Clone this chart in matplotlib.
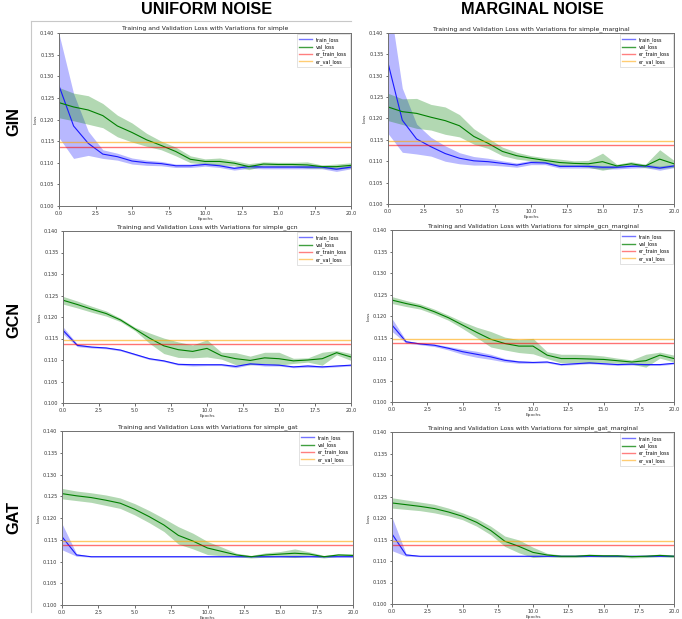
import matplotlib
matplotlib.use("Agg")
import matplotlib.pyplot as plt
from matplotlib.lines import Line2D
import numpy as np

epochs = list(range(21))
er_train_loss = 0.1137
er_val_loss = 0.1147

# ---- GIN / uniform (simple)
simple_train = [0.1278, 0.1185, 0.1145, 0.1120, 0.1114, 0.1104, 0.1100, 0.1098, 0.1093, 0.1093, 0.1096,
                0.1093, 0.1087, 0.1091, 0.1090, 0.1090, 0.1090, 0.1090, 0.1090, 0.1085, 0.1090]
simple_train_sd = [0.0120, 0.0075, 0.0028, 0.0010, 0.0008, 0.0007, 0.0006, 0.0005, 0.0004, 0.0004, 0.0004,
                   0.0004, 0.0004, 0.0004, 0.0004, 0.0004, 0.0004, 0.0004, 0.0004, 0.0005, 0.0004]
simple_val = [0.1239, 0.1229, 0.1222, 0.1209, 0.1185, 0.1170, 0.1153, 0.1140, 0.1126, 0.1108, 0.1103,
              0.1103, 0.1099, 0.1091, 0.1097, 0.1096, 0.1096, 0.1095, 0.1091, 0.1091, 0.1094]
simple_val_sd = [0.0035, 0.0032, 0.0033, 0.0028, 0.0025, 0.0022, 0.0015, 0.0010, 0.0010, 0.0008, 0.0006,
                 0.0008, 0.0006, 0.0007, 0.0005, 0.0005, 0.0005, 0.0007, 0.0004, 0.0006, 0.0006]

# ---- GIN / marginal (simple_marginal)
simple_m_train = [0.1330, 0.1196, 0.1152, 0.1134, 0.1118, 0.1107, 0.1101, 0.1099, 0.1095, 0.1091, 0.1097,
                  0.1096, 0.1088, 0.1088, 0.1088, 0.1086, 0.1086, 0.1088, 0.1089, 0.1084, 0.1089]
simple_m_train_sd = [0.0165, 0.0075, 0.0035, 0.0022, 0.0018, 0.0013, 0.0010, 0.0008, 0.0006, 0.0005, 0.0005,
                     0.0004, 0.0004, 0.0004, 0.0004, 0.0004, 0.0004, 0.0004, 0.0004, 0.0005, 0.0004]
simple_m_val = [0.1227, 0.1216, 0.1212, 0.1203, 0.1195, 0.1183, 0.1158, 0.1142, 0.1123, 0.1113, 0.1107,
                0.1102, 0.1097, 0.1095, 0.1094, 0.1099, 0.1089, 0.1094, 0.1089, 0.1105, 0.1094]
simple_m_val_sd = [0.0032, 0.0030, 0.0035, 0.0030, 0.0032, 0.0026, 0.0018, 0.0012, 0.0010, 0.0008, 0.0006,
                   0.0006, 0.0008, 0.0006, 0.0008, 0.0020, 0.0004, 0.0005, 0.0004, 0.0022, 0.0008]

# ---- GCN / uniform (simple_gcn)
gcn_train = [0.1169, 0.1134, 0.1130, 0.1128, 0.1123, 0.1113, 0.1103, 0.1098, 0.1090, 0.1089, 0.1089,
             0.1089, 0.1085, 0.1091, 0.1089, 0.1088, 0.1084, 0.1086, 0.1084, 0.1086, 0.1088]
gcn_train_sd = [0.0008, 0.0003, 0.0002, 0.0002, 0.0002, 0.0002, 0.0002, 0.0002, 0.0002, 0.0003, 0.0002,
                0.0002, 0.0003, 0.0002, 0.0003, 0.0002, 0.0002, 0.0003, 0.0002, 0.0002, 0.0002]
gcn_val = [0.1239, 0.1229, 0.1218, 0.1208, 0.1193, 0.1172, 0.1151, 0.1133, 0.1124, 0.1120, 0.1127,
           0.1110, 0.1103, 0.1099, 0.1105, 0.1103, 0.1098, 0.1100, 0.1103, 0.1117, 0.1107]
gcn_val_sd = [0.0009, 0.0008, 0.0007, 0.0006, 0.0004, 0.0004, 0.0012, 0.0018, 0.0018, 0.0015, 0.0020,
              0.0008, 0.0014, 0.0010, 0.0013, 0.0015, 0.0006, 0.0005, 0.0015, 0.0005, 0.0008]

# ---- GCN / marginal (simple_gcn_marginal)
gcn_m_train = [0.1179, 0.1140, 0.1135, 0.1132, 0.1125, 0.1117, 0.1111, 0.1105, 0.1097, 0.1093, 0.1092,
               0.1093, 0.1087, 0.1089, 0.1091, 0.1089, 0.1087, 0.1088, 0.1087, 0.1087, 0.1090]
gcn_m_train_sd = [0.0015, 0.0003, 0.0002, 0.0003, 0.0004, 0.0006, 0.0007, 0.0006, 0.0004, 0.0003, 0.0002,
                  0.0002, 0.0002, 0.0002, 0.0002, 0.0002, 0.0002, 0.0002, 0.0002, 0.0002, 0.0002]
gcn_m_val = [0.1237, 0.1229, 0.1222, 0.1210, 0.1196, 0.1179, 0.1162, 0.1146, 0.1136, 0.1130, 0.1130,
             0.1109, 0.1101, 0.1101, 0.1100, 0.1099, 0.1096, 0.1093, 0.1096, 0.1109, 0.1101]
gcn_m_val_sd = [0.0008, 0.0007, 0.0006, 0.0006, 0.0006, 0.0008, 0.0012, 0.0018, 0.0015, 0.0015, 0.0018,
                0.0008, 0.0010, 0.0010, 0.0010, 0.0008, 0.0006, 0.0005, 0.0015, 0.0007, 0.0008]

# ---- GAT / uniform (simple_gat)
gat_train = [0.1157, 0.1115, 0.1111, 0.1111, 0.1111, 0.1111, 0.1111, 0.1111, 0.1111, 0.1111, 0.1111,
             0.1111, 0.1111, 0.1111, 0.1111, 0.1111, 0.1111, 0.1111, 0.1111, 0.1111, 0.1111]
gat_train_sd = [0.0030, 0.0003, 0.0001, 0.0001, 0.0001, 0.0001, 0.0001, 0.0001, 0.0001, 0.0001, 0.0001,
                0.0001, 0.0001, 0.0001, 0.0001, 0.0001, 0.0001, 0.0001, 0.0001, 0.0001, 0.0001]
gat_val = [0.1256, 0.1251, 0.1247, 0.1241, 0.1234, 0.1220, 0.1203, 0.1184, 0.1160, 0.1147, 0.1131,
           0.1123, 0.1115, 0.1111, 0.1115, 0.1117, 0.1119, 0.1117, 0.1111, 0.1115, 0.1114]
gat_val_sd = [0.0012, 0.0011, 0.0011, 0.0012, 0.0012, 0.0013, 0.0014, 0.0015, 0.0020, 0.0018, 0.0015,
              0.0010, 0.0004, 0.0003, 0.0005, 0.0006, 0.0010, 0.0005, 0.0003, 0.0003, 0.0003]

# ---- GAT / marginal (simple_gat_marginal)
gat_m_train = [0.1163, 0.1114, 0.1111, 0.1111, 0.1111, 0.1111, 0.1111, 0.1111, 0.1111, 0.1111, 0.1111,
               0.1111, 0.1111, 0.1111, 0.1111, 0.1111, 0.1111, 0.1111, 0.1111, 0.1111, 0.1111]
gat_m_train_sd = [0.0039, 0.0003, 0.0001, 0.0001, 0.0001, 0.0001, 0.0001, 0.0001, 0.0001, 0.0001, 0.0001,
                  0.0001, 0.0001, 0.0001, 0.0001, 0.0001, 0.0001, 0.0001, 0.0001, 0.0001, 0.0001]
gat_m_val = [0.1235, 0.1231, 0.1227, 0.1222, 0.1214, 0.1204, 0.1190, 0.1171, 0.1146, 0.1134, 0.1120,
             0.1114, 0.1111, 0.1111, 0.1113, 0.1112, 0.1112, 0.1110, 0.1111, 0.1113, 0.1111]
gat_m_val_sd = [0.0012, 0.0011, 0.0010, 0.0010, 0.0009, 0.0008, 0.0009, 0.0010, 0.0012, 0.0015, 0.0012,
                0.0004, 0.0003, 0.0003, 0.0003, 0.0003, 0.0003, 0.0003, 0.0003, 0.0003, 0.0003]

model_names = ["simple", "simple_marginal", "simple_gcn", "simple_gcn_marginal", "simple_gat", "simple_gat_marginal"]
column_titles = ["UNIFORM NOISE", "MARGINAL NOISE"]
row_titles = ["GIN", "GCN", "GAT"]

panels = [
    (simple_train, simple_train_sd, simple_val, simple_val_sd),
    (simple_m_train, simple_m_train_sd, simple_m_val, simple_m_val_sd),
    (gcn_train, gcn_train_sd, gcn_val, gcn_val_sd),
    (gcn_m_train, gcn_m_train_sd, gcn_m_val, gcn_m_val_sd),
    (gat_train, gat_train_sd, gat_val, gat_val_sd),
    (gat_m_train, gat_m_train_sd, gat_m_val, gat_m_val_sd),
]

W, H = 682, 619
fig = plt.figure(figsize=(W / 100, H / 100), dpi=100)
fig.patch.set_facecolor("white")

# axes pixel boxes: left, right, top, bottom
boxes = [(59, 351, 33, 206), (388, 674, 33, 204),
         (63, 351, 231, 403), (392, 674, 230, 402),
         (62, 353, 431, 605), (392, 674, 432, 604)]

def px_rect(l, r, t, b):
    return [l / W, 1 - b / H, (r - l) / W, (b - t) / H]

# faint screenshot frame lines
fig.add_artist(Line2D([31 / W, 31 / W], [1 - 21 / H, 1 - 612 / H], transform=fig.transFigure,
                      color="#c8c8c8", lw=0.8))
fig.add_artist(Line2D([31 / W, 351 / W], [1 - 21 / H, 1 - 21 / H], transform=fig.transFigure,
                      color="#c8c8c8", lw=0.8))

spine_col = "#707070"
for i, (name, box, data) in enumerate(zip(model_names, boxes, panels)):
    tr, trs, va, vas = [np.array(d) for d in data]
    ax = fig.add_axes(px_rect(*box))
    x = np.array(epochs)
    ax.fill_between(x, tr - trs, tr + trs, color="blue", alpha=0.28, lw=0)
    ax.plot(x, tr, color="#1a1aff", lw=0.8)
    ax.fill_between(x, va - vas, va + vas, color="green", alpha=0.3, lw=0)
    ax.plot(x, va, color="green", lw=0.8)
    ax.axhline(er_train_loss, color="red", alpha=0.55, lw=1.0)
    ax.axhline(er_val_loss, color="orange", alpha=0.6, lw=1.0)
    ax.set_xlim(0, 20)
    ax.set_ylim(0.100, 0.140)
    ax.set_yticks(np.arange(0.100, 0.1401, 0.005))
    ax.set_xticks(np.arange(0, 20.01, 2.5))
    ax.yaxis.set_major_formatter(matplotlib.ticker.FormatStrFormatter("%.3f"))
    ax.xaxis.set_major_formatter(matplotlib.ticker.FormatStrFormatter("%.1f"))
    ax.tick_params(labelsize=3.6, length=1.8, width=0.5, pad=1.5, colors="#333333")
    for s in ax.spines.values():
        s.set_color(spine_col)
        s.set_linewidth(0.7)
    ax.set_title(f"Training and Validation Loss with Variations for {name}", fontsize=4.4, pad=2,
                 color="#222222")
    ax.set_xlabel("Epochs", fontsize=3.2, labelpad=1, color="#333333")
    ax.set_ylabel("Loss", fontsize=3.2, labelpad=2, color="#333333")
    handles = [Line2D([], [], color="blue", alpha=0.55, lw=1.0),
               Line2D([], [], color="green", alpha=0.75, lw=1.0),
               Line2D([], [], color="red", alpha=0.5, lw=1.0),
               Line2D([], [], color="orange", alpha=0.55, lw=1.0)]
    leg = ax.legend(handles, ["train_loss", "val_loss", "er_train_loss", "er_val_loss"],
                    loc="upper right", fontsize=3.5, handlelength=2.6, borderaxespad=0.3,
                    labelspacing=0.35, borderpad=0.5, framealpha=1, fancybox=False)
    leg.get_frame().set_linewidth(0.4)
    leg.get_frame().set_edgecolor("#cccccc")

hfont = dict(family=["Liberation Sans", "DejaVu Sans"], fontweight="bold", fontsize=11.7, color="black")
fig.text(207 / W, 1 - 9 / H, column_titles[0], ha="center", va="center", **hfont)
fig.text(532 / W, 1 - 9 / H, column_titles[1], ha="center", va="center", **hfont)
for lab, yc in zip(row_titles, [122, 320, 518]):
    fig.text(14 / W, 1 - yc / H, lab, ha="center", va="center", rotation=90, **hfont)

fig.savefig("out.png", dpi=100, facecolor="white")
